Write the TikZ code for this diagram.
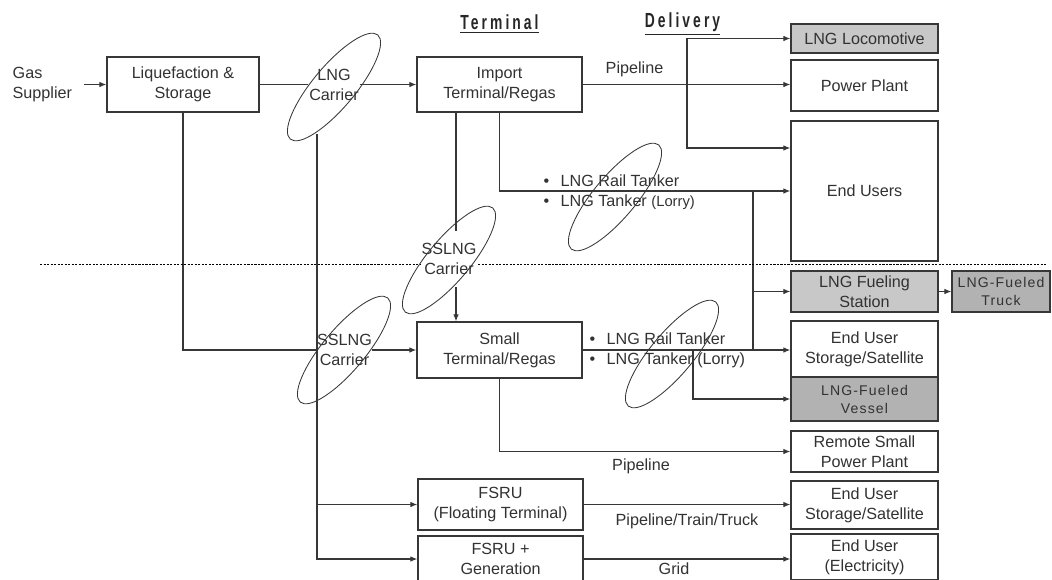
\documentclass[tikz,border=0pt]{standalone}
\usepackage{fontspec}
\setmainfont{Liberation Sans}
\newfontfamily\headfont[FakeStretch=0.68, LetterSpace=15]{Liberation Sans}
\newfontfamily\spacedfont[LetterSpace=8]{Liberation Sans}
\usetikzlibrary{arrows.meta, shapes.geometric}
\definecolor{lineGray}{RGB}{55,55,55}
\definecolor{txtGray}{RGB}{50,50,50}
\definecolor{boxLight}{RGB}{200,200,200}
\definecolor{boxDark}{RGB}{178,178,178}

\begin{document}
\begin{tikzpicture}[
        x=0.025cm,
        y=-0.025cm,
        every node/.style={font=\fontsize{11.5}{14.2}\selectfont, text=txtGray},
        stage/.style={draw=lineGray, line width=0.9pt, align=center, inner sep=1pt},
        enduse/.style={stage, minimum width=3.675cm},
        spaced/.style={font=\spacedfont\fontsize{10}{12.8}\selectfont},
        tag/.style={align=center, inner sep=1pt},
        head/.style={font=\headfont\bfseries\fontsize{14.5}{16}\selectfont, text=black!85},
        ringell/.style={ellipse, draw=lineGray, line width=0.6pt, minimum width=3.4cm, minimum height=1.05cm, rotate=50},
        flow/.style={draw=lineGray, line width=0.8pt},
        arr/.style={flow, -{Latex[length=5pt,width=4pt]}},
        divider/.style={draw=black, line width=0.6pt, dash pattern=on 1.5pt off 1pt}
    ]
        \useasboundingbox (0,0) rectangle (1052,579);
        \clip (0,0) rectangle (1052,579);

        \node[head] (termhead) at (499.5,24) {\underline{Terminal}};
        \node[head] (delhead) at (682.5,24) {\underline{Delivery}};

        \node[tag, anchor=west, align=left] (gas) at (11,84.5) {Gas\\Supplier};
        \node[stage, minimum width=3.8cm, minimum height=1.375cm] (liq) at (183,84.5) {Liquefaction \&\\Storage};
        \node[stage, minimum width=4.125cm, minimum height=1.375cm] (imp) at (499.5,84.5) {Import\\Terminal/Regas};
        \node[stage, minimum width=4.125cm, minimum height=1.4cm] (small) at (499.5,350) {Small\\Terminal/Regas};
        \node[stage, minimum width=4.125cm, minimum height=1.275cm] (fsru) at (500.5,504.5) {FSRU\\(Floating Terminal)};
        \node[stage, minimum width=4.125cm, minimum height=1.15cm] (fsrugen) at (500.5,559) {FSRU +\\Generation};

        \node[enduse, fill=boxLight, minimum height=0.725cm] (loco) at (864.5,38.5) {LNG Locomotive};
        \node[enduse, minimum height=1.275cm] (power) at (864.5,85.5) {Power Plant};
        \node[enduse, minimum height=3.5cm] (endusers) at (864.5,191) {End Users};
        \node[enduse, fill=boxLight, minimum height=1.025cm] (fuel) at (864.5,291.5) {LNG Fueling\\Station};
        \node[stage, spaced, fill=boxDark, minimum width=2.45cm, minimum height=1.025cm] (truck) at (1001,291.5) {LNG-Fueled\\Truck};
        \node[enduse, minimum height=1.4cm] (storage) at (864.5,349) {End User\\Storage/Satellite};
        \node[enduse, spaced, fill=boxDark, minimum height=1.1cm] (vessel) at (864.5,399) {LNG-Fueled\\Vessel};
        \node[enduse, minimum height=1.025cm] (remote) at (864.5,451.5) {Remote Small\\Power Plant};
        \node[enduse, minimum height=1.2cm] (storage2) at (864.5,505) {End User\\Storage/Satellite};
        \node[enduse, minimum height=1.15cm] (elec) at (864.5,557) {End User\\(Electricity)};

        \node[tag] (lngcar) at (334,84.5) {LNG\\Carrier};
        \node[tag, inner ysep=8.5pt] (sslngA) at (449,259) {SSLNG\\Carrier};
        \node[tag, inner xsep=0pt] (sslngB) at (344.5,350) {SSLNG\\Carrier};

        \node[tag, anchor=west, align=left] (railA) at (542,192) {\textbullet\hspace{8pt}LNG Rail Tanker\\\textbullet\hspace{8pt}LNG Tanker {\fontsize{10.5}{14.2}\selectfont(Lorry)}};
        \node[tag, anchor=west, align=left] (railB) at (588,350) {\textbullet\hspace{8pt}LNG Rail Tanker\\\textbullet\hspace{8pt}LNG Tanker (Lorry)};

        \node[tag] (pipeA) at (634.5,69) {Pipeline};
        \node[tag] (pipeB) at (641,466) {Pipeline};
        \node[tag] (pttlabel) at (687,521) {Pipeline/Train/Truck};
        \node[tag] (gridlabel) at (674,569) {Grid};

        \coordinate (cardrop) at (317,134);
        \coordinate (divL) at (40,264);
        \coordinate (divR) at (1047,264);

        \draw[arr] ([xshift=0.25cm]gas.east) -- (gas.east -| liq.west);
        \draw[flow] (liq.east) -- (lngcar.west);
        \draw[arr] (lngcar.east) -- (imp.west);
        \draw[arr] (cardrop) |- (fsrugen.west);
        \draw[arr] (cardrop |- fsru.west) -- (fsru.west);
        \draw[flow] (liq.south) |- (sslngB.west);
        \draw[arr] (sslngB.east) -- (small.west);

        \draw[flow] (imp.south -| 456,0) -- (sslngA.north -| 456,0);
        \draw[arr] (sslngA.south -| 456,0) -- (small.north -| 456,0);
        \draw[arr] (imp.south) |- (endusers.west);
        \draw[flow] (endusers.west -| 753,0) -- (storage.west -| 753,0);
        \draw[arr] (fuel.west -| 753,0) -- (fuel.west);
        \draw[arr] (fuel.east) -- (truck.west);

        \draw[arr] (imp.east) -- (imp.east -| power.west);
        \draw[arr] (imp.east -| 687,0) |- (loco.west);
        \draw[arr] (imp.east -| 687,0) |- ([yshift=1.075cm]endusers.west);

        \draw[arr] (small.east) -- (small.east -| storage.west);
        \draw[arr] (small.east -| 693,0) |- (vessel.west);
        \draw[arr] (small.south) |- (remote.west);
        \draw[arr] (fsru.east) -- (fsru.east -| storage2.west);
        \draw[arr] (fsrugen.east) -- (fsrugen.east -| elec.west);

        \draw[divider] (divL) -- (divL -| sslngA.west);
        \draw[divider] (divL -| sslngA.east) -- (divR);

        \foreach \x/\y [count=\i] in {334/87, 449/260, 344/350, 615/197, 672/354} {
            \node[ringell] (ring\i) at (\x,\y) {};
        }
    \end{tikzpicture}
\end{document}
